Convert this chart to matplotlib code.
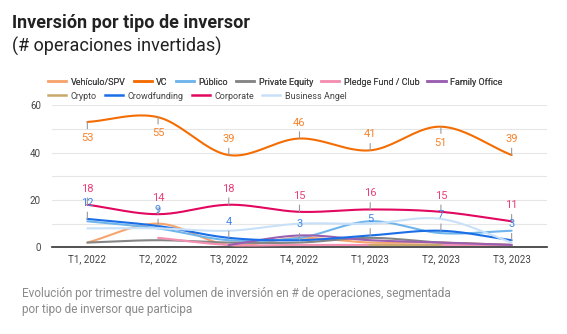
import numpy as np
import matplotlib
matplotlib.use("Agg")
import matplotlib.pyplot as plt
from matplotlib.lines import Line2D

plt.rcParams['font.family'] = ['Roboto', 'DejaVu Sans']

quarters = ["T1, 2022", "T2, 2022", "T3, 2022", "T4, 2022", "T1, 2023", "T2, 2023", "T3, 2023"]
nan = np.nan

vehiculo = [2, 10, 1, 4, 2, 2, 1]
vc = [53, 55, 39, 46, 41, 51, 39]
publico = [11, 8, 3, 4, 11, 6, 7]
private_equity = [2, 3, 2, 2, 4, 2, 1]
pledge = [nan, 4, 1, 1, 1, 1, 1]
family_office = [nan, nan, 1, 5, 3, 2, 1]
crypto = [nan, nan, nan, nan, 1, 1, nan]
crowdfunding = [12, 9, 4, 3, 5, 7, 3]
corporate = [18, 14, 18, 15, 16, 15, 11]
business_angel = [8, 8, 7, 10, 10, 12, 2]

names = ["Vehículo/SPV", "VC", "Público", "Private Equity", "Pledge Fund / Club",
         "Family Office", "Crypto", "Crowdfunding", "Corporate", "Business Angel"]
series = [vehiculo, vc, publico, private_equity, pledge,
          family_office, crypto, crowdfunding, corporate, business_angel]
colors = ["#f7a56e", "#f46d02", "#6fb5ec", "#858585", "#f48fb1",
          "#9b5fb0", "#c8a86c", "#1a6ee6", "#e2075f", "#c8e1f8"]

# which series get value labels, and on which side (+1 above, -1 below)
vc_sides = [-1, -1, 1, 1, 1, -1, 1]
label_colors = {"VC": "#f7832d", "Corporate": "#e8407a", "Crowdfunding": "#3f86e6"}


def smooth(xs, ys, n=24):
    # catmull-rom through the points, just for drawing
    xs = np.asarray(xs, float)
    ys = np.asarray(ys, float)
    if len(xs) < 2:
        return xs, ys
    px = np.concatenate([[2 * xs[0] - xs[1]], xs, [2 * xs[-1] - xs[-2]]])
    py = np.concatenate([[2 * ys[0] - ys[1]], ys, [2 * ys[-1] - ys[-2]]])
    outx, outy = [], []
    t = np.linspace(0, 1, n)
    for i in range(1, len(px) - 2):
        for p, out in ((px, outx), (py, outy)):
            p0, p1, p2, p3 = p[i - 1], p[i], p[i + 1], p[i + 2]
            out.extend(0.5 * ((2 * p1) + (-p0 + p2) * t
                              + (2 * p0 - 5 * p1 + 4 * p2 - p3) * t ** 2
                              + (-p0 + 3 * p1 - 3 * p2 + p3) * t ** 3))
    return np.array(outx), np.array(outy)


fig = plt.figure(figsize=(5.67, 3.34), dpi=100)
ax = fig.add_axes([0.0917, 0.2596, 0.873, 0.4248])

x = np.arange(len(quarters))
for name, vals, c in zip(names, series, colors):
    vals = np.array(vals, float)
    ok = ~np.isnan(vals)
    # split into contiguous runs
    idx = np.where(ok)[0]
    runs = np.split(idx, np.where(np.diff(idx) != 1)[0] + 1)
    for r in runs:
        if len(r) == 0:
            continue
        sx, sy = smooth(x[r], vals[r])
        ax.plot(sx, sy, color=c, lw=1.5, solid_capstyle='round', zorder=3, clip_on=False)

annot = [("VC", vc, vc_sides), ("Corporate", corporate, [1] * 7), ("Crowdfunding", crowdfunding, [1] * 7)]
for name, vals, sides in annot:
    for i, v in enumerate(vals):
        ax.annotate(str(v), xy=(i, v), xytext=(0, 11.5 * sides[i]), textcoords='offset points',
                    ha='center', va='center', fontsize=8, color=label_colors[name], zorder=5,
                    arrowprops=dict(arrowstyle='-', color='#9a9a9a', lw=0.8, shrinkA=1, shrinkB=0))

ax.set_xlim(-0.5, 6.5)
ax.set_ylim(0, 60)
ax.set_yticks([0, 20, 40, 60])
ax.set_yticks([10, 30, 50], minor=True)
ax.set_xticks(x)
ax.set_xticklabels(quarters)
ax.tick_params(axis='both', which='both', length=0, labelsize=7, colors='#444444')
ax.tick_params(axis='x', pad=5)
ax.tick_params(axis='y', pad=8, which='both')
ax.grid(axis='y', which='both', color='#e6e6e6', lw=0.8)
ax.set_axisbelow(True)
for s in ['top', 'right', 'left']:
    ax.spines[s].set_visible(False)
ax.spines['bottom'].set_color('#333333')
ax.spines['bottom'].set_linewidth(1.2)
ax.spines['bottom'].set_zorder(2)

handles = [Line2D([0], [0], color=c, lw=1.8) for c in colors]
leg_kw = dict(frameon=False, fontsize=6.5, handlelength=2.0, handletextpad=0.5,
              columnspacing=0.9, labelcolor='#444444', borderaxespad=0, borderpad=0)
leg1 = fig.legend(handles[:6], names[:6], loc='center left', bbox_to_anchor=(48 / 567, 1 - 82 / 334),
                  ncol=6, **leg_kw)
leg2 = fig.legend(handles[6:], names[6:], loc='center left', bbox_to_anchor=(48 / 567, 1 - 96 / 334),
                  ncol=4, **leg_kw)
fig.add_artist(leg1)

fig.text(12 / 567, 1 - 23 / 334, "Inversión por tipo de inversor", fontsize=13,
         fontweight='bold', color='#222222', va='center')
fig.text(12 / 567, 1 - 46 / 334, "(# operaciones invertidas)", fontsize=13,
         color='#222222', va='center')
fig.text(22 / 567, 1 - 293 / 334, "Evolución por trimestre del volumen de inversión en # de operaciones, segmentada",
         fontsize=8.5, color='#8a8a8a', va='center')
fig.text(22 / 567, 1 - 310 / 334, "por tipo de inversor que participa",
         fontsize=8.5, color='#8a8a8a', va='center')

fig.savefig("out.png", dpi=100)
